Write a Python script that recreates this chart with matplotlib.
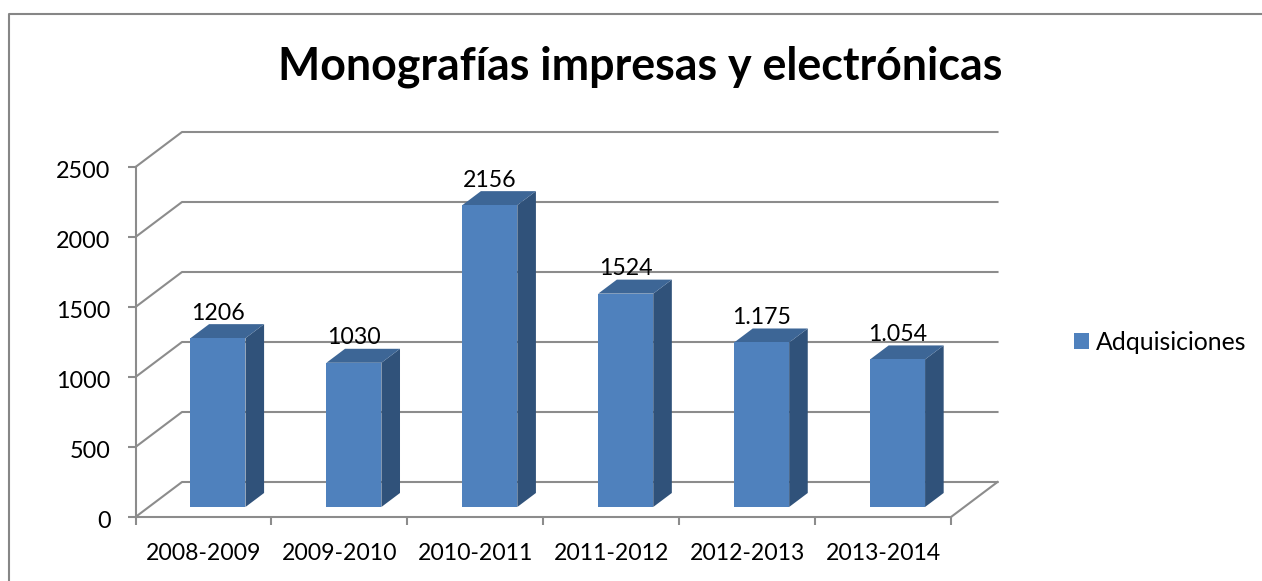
import matplotlib
matplotlib.use("Agg")
import matplotlib.pyplot as plt
from matplotlib.lines import Line2D
from matplotlib.patches import Patch, Polygon
from matplotlib.transforms import ScaledTranslation

periods = ["2008-2009", "2009-2010", "2010-2011", "2011-2012", "2012-2013", "2013-2014"]
adquisiciones = [1206, 1030, 2156, 1524, 1175, 1054]
value_labels = ["1206", "1030", "2156", "1524", "1.175", "1.054"]
y_ticks = [0, 500, 1000, 1500, 2000, 2500]

W, H = 1262, 581
FRONT = "#4F81BD"
TOP = "#3D6696"
SIDE = "#30527A"
GRID = "#8C8C8C"
DARK = "#868686"

plt.rcParams["font.family"] = ["Lato", "DejaVu Sans"]

fig = plt.figure(figsize=(W / 100, H / 100), dpi=100, facecolor="white")
ax = fig.add_axes([135.5 / W, 1 - 517 / H, (951 - 135.5) / W, 350 / H])
ax.set_xlim(0, 6)
ax.set_ylim(0, 2500)
ax.patch.set_visible(False)

# depth of the fake 3d box, in data units
dx = 46.5 / 135.9
dy = 250

# walls and floor
for v in y_ticks:
    ax.plot([0, dx, 6 + dx], [v, v + dy, v + dy], color=GRID, lw=1.5, clip_on=False, zorder=1)
ax.plot([6, 6 + dx], [0, dy], color=GRID, lw=1.5, clip_on=False, zorder=1)

# bars
bar_w = 55 / 135.9
d0, d1 = 0.286, 0.686
for i, val in enumerate(adquisiciones):
    x0 = i + 0.5 - bar_w / 2 + d0 * dx + 0.009
    x1 = x0 + bar_w
    y0 = d0 * dy
    y1 = val + d0 * dy
    ox = (d1 - d0) * dx
    oy = (d1 - d0) * dy
    ax.add_patch(Polygon([(x1, y0), (x1 + ox, y0 + oy), (x1 + ox, y1 + oy), (x1, y1)],
                         fc=SIDE, ec="none", clip_on=False, zorder=3))
    ax.add_patch(Polygon([(x0, y1), (x1, y1), (x1 + ox, y1 + oy), (x0 + ox, y1 + oy)],
                         fc=TOP, ec="none", clip_on=False, zorder=3))
    ax.add_patch(Polygon([(x0, y0), (x1, y0), (x1, y1), (x0, y1)],
                         fc=FRONT, ec="none", clip_on=False, zorder=4))
    ax.annotate(value_labels[i], ((x0 + x1) / 2, y1), xytext=(0, 18), textcoords="offset points",
                ha="center", va="center", fontsize=16.7, color="black", zorder=5, annotation_clip=False)

for side in ["top", "right"]:
    ax.spines[side].set_visible(False)
for side in ["left", "bottom"]:
    ax.spines[side].set_color(GRID)
    ax.spines[side].set_linewidth(1.5)

ax.set_yticks(y_ticks)
ax.set_xticks(range(7))
ax.set_xticklabels([])
ax.set_xticks([i + 0.5 for i in range(6)], minor=True)
ax.set_xticklabels(periods, minor=True)
ax.tick_params(axis="x", which="major", length=6, width=1.5, color=GRID)
ax.tick_params(axis="x", which="minor", length=0, pad=18.5, labelsize=16.6)
ax.tick_params(axis="y", length=6, width=1.5, color=GRID, pad=12, labelsize=16.8)
nudge = ScaledTranslation(0, -2 / 72, fig.dpi_scale_trans)
for lab in ax.get_yticklabels():
    lab.set_transform(lab.get_transform() + nudge)

fig.text(640 / W, 1 - 67 / H, "Monografías impresas y electrónicas", ha="center", va="center",
         fontsize=32.2, fontweight="bold", color="black")

ax.legend(handles=[Patch(fc=FRONT, ec="none", label="Adquisiciones")], loc="center left",
          bbox_to_anchor=(1074 / W, 1 - 342 / H), bbox_transform=fig.transFigure, frameon=False,
          fontsize=17.8, handlelength=0.61, handleheight=0.61, handletextpad=0.28, borderpad=0, borderaxespad=0)

# chart border, only left and top show in the crop
fig.add_artist(Line2D([9 / W, 9 / W, 1], [0, 1 - 13.5 / H, 1 - 13.5 / H], color=DARK, lw=1.5))

fig.savefig("out.png", dpi=100)
